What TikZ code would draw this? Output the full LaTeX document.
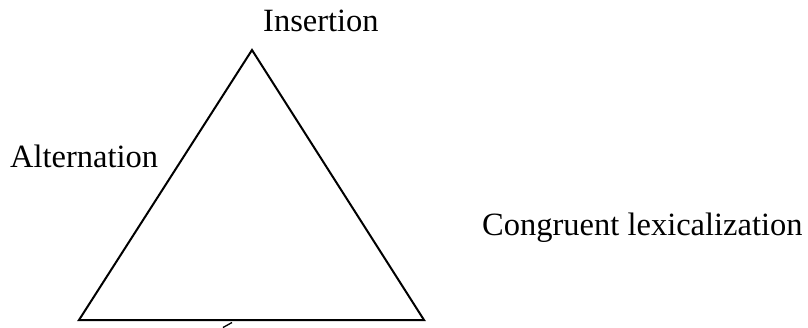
\documentclass[tikz,border=0pt]{standalone}
\usepackage{fontspec}
\setmainfont{Liberation Serif}
\usetikzlibrary{calc}

\begin{document}
\begin{tikzpicture}[x=1pt, y=-1pt,
    lbl/.style={font=\fontsize{32.5}{39}\selectfont, inner sep=0pt, anchor=base west}]
\useasboundingbox (0,0) rectangle (808,327);

% Corners of the triangle
\coordinate (apex) at (252,50);
\coordinate (left) at (79,320);
\coordinate (right) at (424,320);

% Draw the triangle
\draw[line width=2pt, line join=miter] (apex) -- (left) -- (right) -- cycle;

% Small mark below the base
\coordinate (markA) at (223,327.5);
\coordinate (markB) at (232,322.5);
\draw[line width=1.3pt] (markA) -- (markB);

% Add text labels for the three types
\node[lbl] (insertion) at (263,31) {Insertion};
\node[lbl] (alternation) at (10,167) {Alternation};
\node[lbl] (congruent) at (482,235) {Congruent lexicalization};
\end{tikzpicture}
\end{document}
